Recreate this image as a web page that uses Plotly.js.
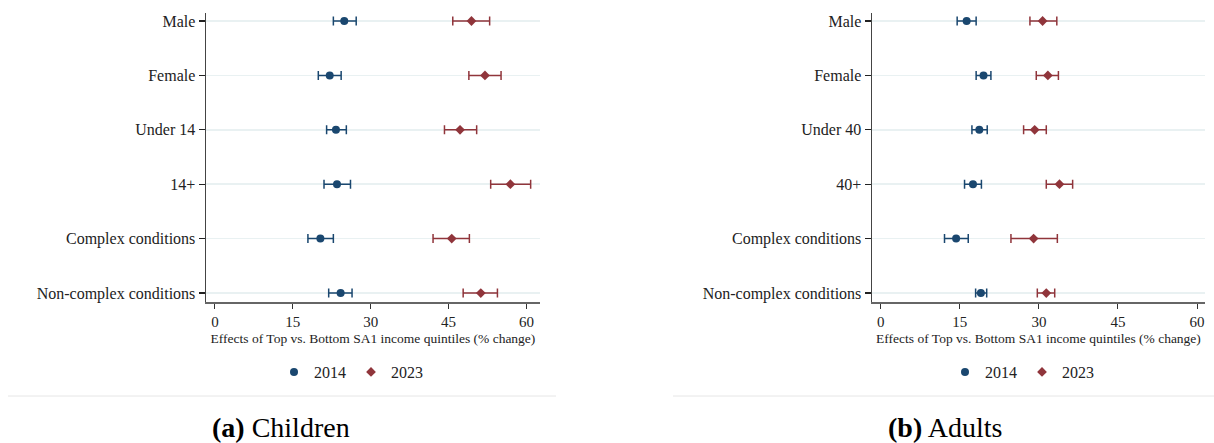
<!DOCTYPE html>
<html>
<head>
<meta charset="utf-8">
<script src="https://cdn.plot.ly/plotly-3.0.1.min.js"></script>
<style>html,body{margin:0;padding:0;background:#fff;}#chart{width:1214px;height:443px;}</style>
</head>
<body>
<div id="chart"></div>
<script>
// ---- Data ----
const childLabels = ["Male", "Female", "Under 14", "14+", "Complex conditions", "Non-complex conditions"];
const adultLabels = ["Male", "Female", "Under 40", "40+", "Complex conditions", "Non-complex conditions"];

const child2014   = [24.9, 22.1, 23.3, 23.5, 20.3, 24.2];
const child2014Lo = [22.8, 19.9, 21.5, 21.0, 17.9, 21.9];
const child2014Hi = [27.2, 24.3, 25.3, 26.1, 22.8, 26.4];

const child2023   = [49.4, 52.0, 47.2, 56.9, 45.6, 51.2];
const child2023Lo = [45.8, 48.9, 44.2, 53.1, 42.0, 47.8];
const child2023Hi = [52.9, 55.1, 50.4, 60.8, 49.0, 54.4];

const adult2014   = [16.3, 19.5, 18.7, 17.5, 14.3, 19.0];
const adult2014Lo = [14.5, 18.1, 17.3, 15.9, 12.1, 18.0];
const adult2014Hi = [18.1, 20.9, 20.2, 19.1, 16.6, 20.1];

const adult2023   = [30.7, 31.7, 29.2, 33.9, 29.0, 31.4];
const adult2023Lo = [28.3, 29.5, 27.1, 31.4, 24.7, 29.7];
const adult2023Hi = [33.4, 33.7, 31.4, 36.4, 33.5, 33.0];

const xTicks = [0, 15, 30, 45, 60];
const seriesNames = ["2014", "2023"];
const xTitle = "Effects of Top vs. Bottom SA1 income quintiles (% change)";
const captions = ["<b>(a)</b> Children", "<b>(b)</b> Adults"];

// ---- Styling ----
const BLUE = "#1a476f";
const RED = "#90353b";
const FONT = "Liberation Serif";

function mk(x, lo, hi, y, name, color, symbol, size, xa, ya, leg) {
  return {
    type: "scatter", mode: "markers",
    x: x, y: y, name: name,
    xaxis: xa, yaxis: ya, legend: leg,
    marker: {color: color, symbol: symbol, size: size, line: {width: 0}},
    error_x: {
      type: "data", symmetric: false,
      array: hi.map((h, i) => h - x[i]),
      arrayminus: lo.map((l, i) => x[i] - l),
      color: color, thickness: 1.5, width: 4.5
    },
    cliponaxis: false
  };
}

const traces = [
  mk(child2014, child2014Lo, child2014Hi, childLabels, seriesNames[0], BLUE, "circle", 8, "x", "y", "legend"),
  mk(child2023, child2023Lo, child2023Hi, childLabels, seriesNames[1], RED, "diamond", 7.5, "x", "y", "legend"),
  mk(adult2014, adult2014Lo, adult2014Hi, adultLabels, seriesNames[0], BLUE, "circle", 8, "x2", "y2", "legend2"),
  mk(adult2023, adult2023Lo, adult2023Hi, adultLabels, seriesNames[1], RED, "diamond", 7.5, "x2", "y2", "legend2")
];

function xax(domain, range) {
  return {
    domain: domain, range: range, autorange: false,
    tickvals: xTicks, ticks: "outside", ticklen: 5, tickwidth: 1, tickcolor: "#333",
    tickfont: {family: FONT, size: 15, color: "#222"},
    showline: true, linecolor: "#666", linewidth: 2,
    showgrid: false, zeroline: false, automargin: false,
    title: {text: xTitle, font: {family: FONT, size: 13.5, color: "#222"}, standoff: 5}
  };
}
function yax(domain, cats) {
  return {
    domain: domain, type: "category", categoryorder: "array", categoryarray: cats,
    range: [5.165, -0.147], autorange: false,
    ticks: "outside", ticklen: 6, tickwidth: 1.2, tickcolor: "#222",
    tickfont: {family: FONT, size: 16, color: "#222"},
    showline: true, linecolor: "#444", linewidth: 1.5,
    showgrid: true, gridcolor: "#e9f1f2", gridwidth: 1.5,
    zeroline: false, automargin: false
  };
}

const legendBase = {orientation: "h", xanchor: "center", y: 1 - 372/443, yanchor: "middle",
  font: {family: FONT, size: 16, color: "#222"}, bgcolor: "rgba(0,0,0,0)", itemwidth: 30};

const layout = {
  width: 1214, height: 443,
  margin: {l: 0, r: 0, t: 0, b: 0},
  paper_bgcolor: "#fff", plot_bgcolor: "#fff",
  font: {family: FONT, color: "#222"},
  xaxis: xax([206/1214, 540/1214], [-1.73, 62.6]),
  yaxis: yax([1 - 302/443, 1 - 13/443], childLabels),
  xaxis2: Object.assign(xax([872/1214, 1205/1214], [-1.65, 61.5]), {anchor: "y2"}),
  yaxis2: Object.assign(yax([1 - 302/443, 1 - 13/443], adultLabels), {anchor: "x2"}),
  showlegend: true,
  legend: Object.assign({}, legendBase, {x: 351/1214}),
  legend2: Object.assign({}, legendBase, {x: 1022/1214}),
  shapes: [
    {type: "line", xref: "paper", yref: "paper", x0: 8/1214, x1: 556/1214, y0: 1 - 396/443, y1: 1 - 396/443,
     line: {color: "#e6e6e6", width: 1}},
    {type: "line", xref: "paper", yref: "paper", x0: 673/1214, x1: 1, y0: 1 - 396/443, y1: 1 - 396/443,
     line: {color: "#e6e6e6", width: 1}}
  ],
  annotations: [
    {text: captions[0], xref: "paper", yref: "paper", x: 281/1214, y: 1 - 427/443, xanchor: "center", yanchor: "middle",
     showarrow: false, font: {family: FONT, size: 28, color: "#000"}},
    {text: captions[1], xref: "paper", yref: "paper", x: 945/1214, y: 1 - 427/443, xanchor: "center", yanchor: "middle",
     showarrow: false, font: {family: FONT, size: 28, color: "#000"}}
  ]
};

Plotly.newPlot("chart", traces, layout, {staticPlot: true, displayModeBar: false});
</script>
</body>
</html>
